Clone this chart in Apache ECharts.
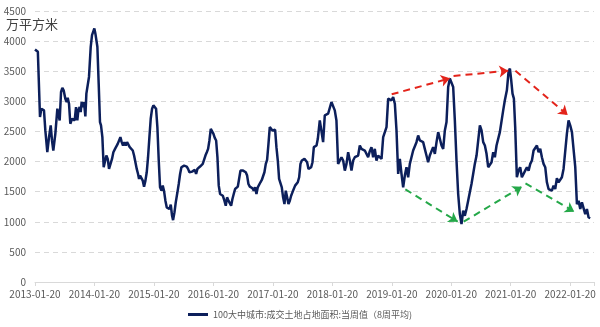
<!DOCTYPE html>
<html>
<head>
<meta charset="utf-8">
<style>
  html, body { margin: 0; padding: 0; background: #ffffff; }
  #chart { width: 600px; height: 327px; }
</style>
<script src="https://cdn.jsdelivr.net/npm/echarts@6/dist/echarts.min.js"></script>
</head>
<body>
<div id="chart"></div>
<script>
// Weekly land transaction area (8-week average), 100 large & medium cities, 10k m²
const seriesName = '100大中城市:成交土地占地面积:当周值（8周平均)';
const unitLabel = '万平方米';

// Observation dates as decimal calendar years
const weekYear = [
  2013.052, 2013.100, 2013.120, 2013.136, 2013.159, 2013.187, 2013.203, 2013.226, 2013.259, 2013.288,
  2013.316, 2013.338, 2013.360, 2013.394, 2013.428, 2013.445, 2013.467, 2013.490, 2013.512, 2013.534,
  2013.562, 2013.585, 2013.602, 2013.624, 2013.646, 2013.675, 2013.697, 2013.719, 2013.742, 2013.764,
  2013.781, 2013.803, 2013.820, 2013.837, 2013.860, 2013.876, 2013.899, 2013.916, 2013.938, 2013.960,
  2013.989, 2014.011, 2014.033, 2014.050, 2014.067, 2014.084, 2014.101, 2014.123, 2014.145, 2014.162,
  2014.185, 2014.207, 2014.235, 2014.252, 2014.275, 2014.297, 2014.325, 2014.347, 2014.370, 2014.398,
  2014.420, 2014.443, 2014.465, 2014.488, 2014.510, 2014.532, 2014.555, 2014.577, 2014.600,
  2014.617, 2014.645, 2014.673, 2014.696, 2014.718, 2014.740, 2014.763, 2014.785, 2014.802, 2014.819,
  2014.841, 2014.864, 2014.886, 2014.909, 2014.931, 2014.953, 2014.976, 2014.998, 2015.021, 2015.043,
  2015.066, 2015.088, 2015.110, 2015.133, 2015.155, 2015.178, 2015.200, 2015.223, 2015.245, 2015.268,
  2015.290, 2015.312, 2015.335, 2015.357, 2015.374, 2015.397, 2015.419, 2015.447, 2015.469, 2015.492,
  2015.514, 2015.537, 2015.559, 2015.582, 2015.604, 2015.626, 2015.649, 2015.671, 2015.694, 2015.716,
  2015.739, 2015.761, 2015.783, 2015.806, 2015.828, 2015.851, 2015.873, 2015.896, 2015.918, 2015.941,
  2015.963, 2015.985, 2016.008, 2016.030, 2016.053, 2016.075, 2016.098, 2016.120, 2016.142, 2016.165,
  2016.187, 2016.210,
  2016.215, 2016.237, 2016.260, 2016.282, 2016.305, 2016.327, 2016.350, 2016.372, 2016.394, 2016.417,
  2016.439, 2016.462, 2016.484, 2016.507, 2016.529, 2016.551, 2016.574, 2016.596, 2016.619, 2016.641,
  2016.664, 2016.686, 2016.709, 2016.731, 2016.753, 2016.776, 2016.798, 2016.821, 2016.843, 2016.866,
  2016.888, 2016.910, 2016.933, 2016.955, 2016.978, 2017.000, 2017.023, 2017.045, 2017.068, 2017.090,
  2017.112, 2017.135, 2017.157, 2017.180, 2017.202, 2017.224, 2017.247, 2017.269, 2017.292, 2017.314,
  2017.337, 2017.359, 2017.381, 2017.404, 2017.426, 2017.449, 2017.471, 2017.494, 2017.516, 2017.539,
  2017.561, 2017.583, 2017.606, 2017.628, 2017.651, 2017.673, 2017.696, 2017.718, 2017.741, 2017.763,
  2017.786, 2017.808,
  2017.841, 2017.897, 2017.925, 2017.981, 2018.009, 2018.037, 2018.065, 2018.093, 2018.121, 2018.149,
  2018.178, 2018.206, 2018.234, 2018.262, 2018.290, 2018.318, 2018.346, 2018.374, 2018.402, 2018.430,
  2018.458, 2018.486, 2018.514, 2018.542, 2018.570, 2018.598, 2018.626, 2018.654, 2018.682, 2018.710,
  2018.738, 2018.766, 2018.794, 2018.822, 2018.850, 2018.879, 2018.907, 2018.935, 2018.963, 2018.991,
  2019.019, 2019.047, 2019.075, 2019.103, 2019.131, 2019.159, 2019.187, 2019.215, 2019.243, 2019.271,
  2019.299, 2019.327, 2019.355, 2019.383,
  2019.411, 2019.439, 2019.467, 2019.495, 2019.523, 2019.551, 2019.579, 2019.607, 2019.635, 2019.663,
  2019.691, 2019.719, 2019.747, 2019.776, 2019.804, 2019.832, 2019.860, 2019.888, 2019.916, 2019.944,
  2019.972, 2020.000, 2020.028, 2020.056, 2020.084, 2020.112, 2020.140, 2020.168, 2020.196, 2020.224,
  2020.252, 2020.280, 2020.308, 2020.336, 2020.364, 2020.392, 2020.420, 2020.448, 2020.477, 2020.505,
  2020.533, 2020.561, 2020.589, 2020.617, 2020.645, 2020.673, 2020.701, 2020.729, 2020.757, 2020.785,
  2020.813, 2020.841, 2020.869, 2020.897, 2020.925, 2020.953,
  2020.987, 2021.015, 2021.038, 2021.060, 2021.082, 2021.105, 2021.127, 2021.155, 2021.183, 2021.211,
  2021.239, 2021.267, 2021.295, 2021.324, 2021.352, 2021.380, 2021.408, 2021.436, 2021.464, 2021.492,
  2021.520, 2021.548, 2021.576, 2021.604, 2021.632, 2021.660, 2021.688, 2021.716, 2021.744, 2021.772,
  2021.800, 2021.828, 2021.856, 2021.884, 2021.912, 2021.940, 2021.968, 2021.996, 2022.024, 2022.052,
  2022.081, 2022.109, 2022.137, 2022.165, 2022.193, 2022.221, 2022.249, 2022.277, 2022.305, 2022.333,
  2022.361, 2022.389
];

const landArea = [
  3861, 3822, 3822, 2739, 2878, 2889, 2850, 2517, 2155, 2405,
  2600, 2350, 2183, 2461, 2878, 2905, 2683, 3155, 3222, 3183,
  3044, 2989, 3061, 2961, 2628, 2711, 2739, 2683, 2905, 2683,
  2850, 2905, 2822, 2989, 2905, 2989, 2750, 3128, 3128, 3405,
  3906, 4100, 4128, 4211, 4128, 4156, 3906, 3294, 2656, 2600,
  2405, 1905, 1905, 2100, 2044, 1878, 1905, 2044, 2155, 2211,
  2239, 2294, 2267, 2405, 2322, 2267, 2322, 2267, 2322,
  2322, 2239, 2250, 2183, 2100, 2072, 1878, 1794, 1711, 1767,
  1739, 1683, 1583, 1683, 1822, 2072, 2405, 2711, 2878, 2933,
  2950, 2878, 2572, 2017, 1572, 1517, 1600, 1506, 1350, 1239,
  1267, 1211, 1283, 1100, 1028, 1156, 1322, 1489, 1628, 1794,
  1906, 1933, 1933, 1928, 1917, 1878, 1822, 1794, 1833, 1850,
  1861, 1794, 1878, 1850, 1917, 1933, 1961, 1989, 2100, 2155,
  2211, 2350, 2544, 2544, 2461, 2394, 2350, 2072, 1600, 1461,
  1461, 1433,
  1461, 1350, 1267, 1406, 1350, 1350, 1267, 1378, 1461, 1544,
  1572, 1583, 1711, 1850, 1878, 1850, 1850, 1822, 1767, 1628,
  1583, 1572, 1556, 1517, 1572, 1461, 1572, 1600, 1656, 1694,
  1711, 1822, 1961, 2028, 2294, 2572, 2544, 2517, 2517, 2528,
  2239, 2017, 1711, 1683, 1572, 1406, 1294, 1517, 1406, 1294,
  1350, 1433, 1489, 1489, 1600, 1628, 1656, 1739, 1961, 2017,
  2017, 2044, 2017, 1989, 1878, 1850, 1906, 1989, 2239, 2211,
  2267, 2378,
  2683, 2322, 2767, 2794, 2822, 2989, 3006, 2850, 2683, 1961,
  1933, 2072, 2017, 1850, 1961, 2156, 2017, 1850, 2017, 2072,
  2044, 2100, 2267, 2211, 2228, 2183, 2194, 2072, 2172, 2239,
  2072, 2211, 2017, 2100, 2072, 2044, 2406, 2433, 2572, 3044,
  3044, 3017, 3072, 2961, 2517, 1794, 2044, 1794, 1572, 1767,
  1906, 1739, 1961, 2072,
  2183, 2211, 2322, 2433, 2350, 2378, 2322, 2211, 2100, 1989,
  2100, 2072, 2239, 2128, 2322, 2489, 2378, 2267, 2211, 2517,
  2656, 3239, 3378, 3406, 3239, 2683, 2017, 1461, 1128, 961,
  1183, 1100, 1211, 1350, 1489, 1628, 1794, 1961, 2100, 2350,
  2600, 2517, 2322, 2267, 2128, 1906, 1878, 1989, 2156, 2072,
  2267, 2294, 2489, 2461, 2850, 3017,
  3183, 3489, 3544, 3350, 3128, 3044, 2572, 1739, 1850, 1906,
  1739, 1767, 1850, 1906, 1850, 1961, 2017, 2183, 2211, 2267,
  2156, 2211, 2072, 1961, 1906, 1656, 1544, 1572, 1517, 1600,
  1544, 1722, 1656, 1683, 1739, 1878, 1906, 2461, 2683, 2600,
  2489, 2461, 1906, 1294, 1350, 1211, 1322, 1294, 1128, 1211,
  1072, 1061
];

// Axis settings
const firstTickYear = 2013;
const tickDayLabel = '-01-20';
const axisStartYear = 2013 + 19 / 365;   // 2013-01-20
const axisSpanYears = 9.4;
const yTicks = { min: 0, max: 4500, step: 500 };

// Trend arrows: [fromYear, fromValue, toYear, toValue]
const highTrend = [
  [2019.05, 3117, 2020.03, 3382],
  [2020.09, 3421, 2021.01, 3509],
  [2021.13, 3509, 2022.01, 2773]
];
const lowTrend = [
  [2019.28, 1539, 2020.16, 1001],
  [2020.26, 1001, 2021.24, 1583],
  [2021.30, 1639, 2022.12, 1167]
];

const lineData = weekYear.map((y, i) => [y - axisStartYear, landArea[i]]);

function arrowItems(list, color) {
  return list.map(a => [
    { coord: [a[0] - axisStartYear, a[1]], lineStyle: { color: color, type: [7, 5], width: 2 }, itemStyle: { color: color } },
    { coord: [a[2] - axisStartYear, a[3]] }
  ]);
}

const font = '"Noto Sans CJK SC", "Noto Sans", sans-serif';
const chart = echarts.init(document.getElementById('chart'), null, { renderer: 'canvas' });

chart.setOption({
  animation: false,
  backgroundColor: '#ffffff',
  textStyle: { fontFamily: font },
  grid: { left: 35, right: 6, top: 11, bottom: 45, containLabel: false },
  graphic: [{
    type: 'text',
    left: 6,
    top: 18,
    style: { text: unitLabel, font: '13px ' + font, fill: '#404040' }
  }],
  legend: {
    data: [seriesName],
    left: 'center',
    top: 305,
    icon: 'rect',
    itemWidth: 20,
    itemHeight: 3,
    textStyle: { fontSize: 9, color: '#595959', fontFamily: font }
  },
  xAxis: {
    type: 'value',
    min: 0,
    max: axisSpanYears,
    interval: 1,
    splitLine: { show: false },
    axisLine: { show: true, lineStyle: { color: '#d9d9d9', width: 1 } },
    axisTick: { show: true, length: 4, lineStyle: { color: '#d9d9d9' } },
    axisLabel: {
      color: '#595959',
      fontSize: 10,
      margin: 7,
      formatter: v => Math.abs(v - Math.round(v)) < 1e-6 ? (firstTickYear + Math.round(v)) + tickDayLabel : ''
    }
  },
  yAxis: {
    type: 'value',
    min: yTicks.min,
    max: yTicks.max,
    interval: yTicks.step,
    axisLine: { show: false },
    axisTick: { show: false },
    axisLabel: { color: '#595959', fontSize: 10, margin: 9, formatter: v => String(v) },
    splitLine: { show: true, lineStyle: { color: '#d9d9d9', type: [5, 4], width: 1 } }
  },
  series: [{
    name: seriesName,
    type: 'line',
    data: lineData,
    showSymbol: false,
    symbol: 'none',
    color: '#0c1f5b',
    lineStyle: { color: '#0c1f5b', width: 2.5 },
    markLine: {
      silent: true,
      symbol: ['none', 'arrow'],
      symbolSize: [9, 9],
      label: { show: false },
      emphasis: { disabled: true },
      data: arrowItems(highTrend, '#e3241b').concat(arrowItems(lowTrend, '#25a849'))
    }
  }]
});
</script>
</body>
</html>
